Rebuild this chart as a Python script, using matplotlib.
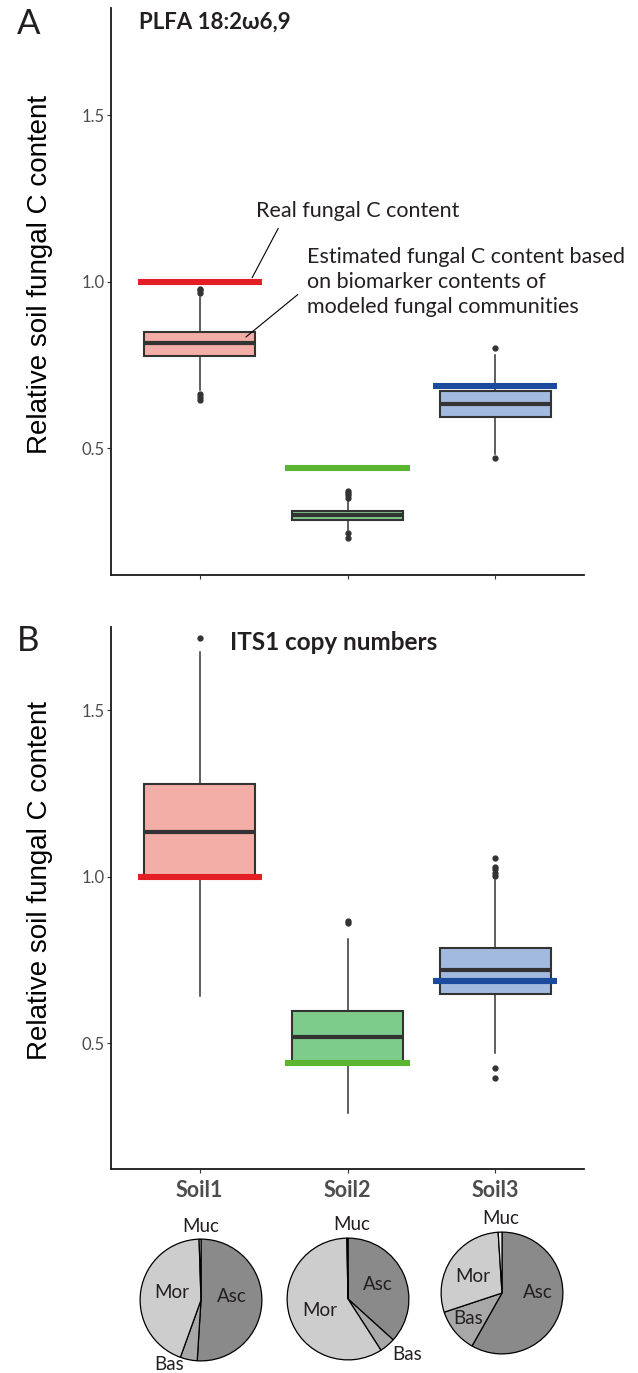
import matplotlib
matplotlib.use("Agg")
import matplotlib.pyplot as plt

# data
soils = ["Soil1", "Soil2", "Soil3"]
box_fill = ["#F3AEA7", "#7ECC8B", "#A3BADF"]
real_color = ["#E31E24", "#5BB531", "#1C4A9C"]
real_c = [1.0, 0.44, 0.688]

# panel A: PLFA 18:2w6,9
a_q1 = [0.776, 0.285, 0.595]
a_med = [0.815, 0.298, 0.634]
a_q3 = [0.849, 0.312, 0.672]
a_lo = [0.676, 0.254, 0.484]
a_hi = [0.955, 0.344, 0.780]
a_fliers = [[0.965, 0.975, 0.980, 0.664, 0.655, 0.645],
            [0.350, 0.358, 0.366, 0.372, 0.246, 0.230],
            [0.802, 0.470]]

# panel B: ITS1 copy numbers
b_q1 = [0.998, 0.444, 0.647]
b_med = [1.133, 0.519, 0.719]
b_q3 = [1.279, 0.596, 0.787]
b_lo = [0.642, 0.289, 0.469]
b_hi = [1.676, 0.814, 0.991]
b_fliers = [[1.718], [0.860, 0.866], [1.003, 1.012, 1.022, 1.029, 1.056, 0.424, 0.394]]

# pies (clockwise from 12 o'clock)
taxa = ["Asc", "Bas", "Mor", "Muc"]
taxa_color = ["#8A8A8A", "#A8A8A8", "#CDCDCD", "#EEEEEE"]
pie_vals = [[51.0, 4.5, 44.0, 0.5],
            [36.7, 4.2, 58.8, 0.3],
            [58.2, 11.7, 29.1, 1.0]]

W, H = 638, 1373
fig = plt.figure(figsize=(W / 100, H / 100), dpi=100)
FONT = ["Lato", "DejaVu Sans"]


def fx(x):
    return x / W


def fy(y):
    return 1 - y / H


def panel(top, bottom, ylim, q1, med, q3, lo, hi, fliers):
    ax = fig.add_axes([fx(111), fy(bottom), fx(584) - fx(111), fy(top) - fy(bottom)])
    stats = []
    for i in range(3):
        stats.append(dict(q1=q1[i], med=med[i], q3=q3[i], whislo=lo[i],
                          whishi=hi[i], fliers=fliers[i]))
    bp = ax.bxp(stats, positions=[1, 2, 3], widths=0.75, patch_artist=True,
                showcaps=False,
                boxprops=dict(edgecolor="#333333", linewidth=1.5),
                medianprops=dict(color="#333333", linewidth=3),
                whiskerprops=dict(color="#333333", linewidth=1.1),
                flierprops=dict(marker="o", markersize=3.5, markerfacecolor="#333333",
                                markeredgecolor="#333333"))
    for patch, c in zip(bp["boxes"], box_fill):
        patch.set_facecolor(c)
    for i in range(3):
        ax.hlines(real_c[i], i + 1 - 0.42, i + 1 + 0.42, color=real_color[i],
                  linewidth=4.4, zorder=5)
    ax.set_xlim(0.4, 3.6)
    ax.set_ylim(*ylim)
    ax.set_yticks([0.5, 1.0, 1.5])
    ax.set_yticklabels(["0.5", "1.0", "1.5"], family=FONT, fontsize=12, color="#4D4D4D")
    ax.set_xticks([1, 2, 3])
    ax.tick_params(axis="both", length=3, width=0.8, color="#333333", pad=1.5)
    for s in ["top", "right"]:
        ax.spines[s].set_visible(False)
    for s in ["left", "bottom"]:
        ax.spines[s].set_linewidth(1.3)
        ax.spines[s].set_color("#1a1a1a")
    return ax


axA = panel(8, 575, (0.119, 1.823), a_q1, a_med, a_q3, a_lo, a_hi, a_fliers)
axA.set_xticklabels([])
axB = panel(627, 1169, (0.122, 1.75), b_q1, b_med, b_q3, b_lo, b_hi, b_fliers)
axB.set_xticklabels(soils, family=FONT, fontsize=15.5, fontweight="bold", color="#4D4D4D")
axB.tick_params(axis="x", pad=5)

# annotations in panel A
axA.text(1.38, 1.213, "Real fungal C content", family=FONT, fontsize=15.5,
         color="#231F20", va="center", ha="left")
axA.annotate("", xy=(1.346, 1.005), xytext=(1.54, 1.168),
             arrowprops=dict(arrowstyle="-", color="black", lw=0.8))
axA.text(1.725, 1.105, "Estimated fungal C content based\non biomarker contents of\nmodeled fungal communities",
         family=FONT, fontsize=15.5, color="#231F20", va="top", ha="left", linespacing=1.3)
axA.annotate("", xy=(1.298, 0.829), xytext=(1.678, 0.967),
             arrowprops=dict(arrowstyle="-", color="black", lw=0.8))

# titles and panel letters
fig.text(fx(139), fy(22), "PLFA 18:2ω6,9", family=FONT, fontsize=16, fontweight="bold",
         color="#231F20", va="center", ha="left")
fig.text(fx(230), fy(643), "ITS1 copy numbers", family=FONT, fontsize=17.5, fontweight="bold",
         color="#231F20", va="center", ha="left")
fig.text(fx(17), fy(24), "A", family=FONT, fontsize=25, color="#231F20", va="center", ha="left")
fig.text(fx(17), fy(641), "B", family=FONT, fontsize=25, color="#231F20", va="center", ha="left")

for yc in [275, 880]:
    fig.text(fx(40), fy(yc), "Relative soil fungal C content", family="Liberation Sans",
             fontsize=20, rotation=90, va="center", ha="center", color="black")

# pies
pie_centers = [(201, 1300), (348, 1299), (502, 1293)]
pie_r = 61.5
label_pos = [
    {"Muc": (201, 1227), "Mor": (172, 1293), "Asc": (232, 1297), "Bas": (169, 1365)},
    {"Muc": (352, 1225), "Asc": (378, 1285), "Mor": (320, 1311), "Bas": (407, 1355)},
    {"Muc": (501, 1219), "Mor": (473, 1277), "Bas": (468, 1318), "Asc": (538, 1293)},
]
for k, (cx, cy) in enumerate(pie_centers):
    pax = fig.add_axes([fx(cx - pie_r), fy(cy + pie_r), 2 * pie_r / W, 2 * pie_r / H])
    pax.pie(pie_vals[k], colors=taxa_color, startangle=90, counterclock=False,
            wedgeprops=dict(edgecolor="black", linewidth=0.9))
    pax.set_xlim(-1.01, 1.01)
    pax.set_ylim(-1.01, 1.01)
    pax.set_aspect("equal")
    pax.axis("off")
    for name, (lx, ly) in label_pos[k].items():
        fig.text(fx(lx), fy(ly), name, family=FONT, fontsize=13.5, color="#231F20",
                 ha="center", va="center")

fig.savefig("out.png", dpi=100)
